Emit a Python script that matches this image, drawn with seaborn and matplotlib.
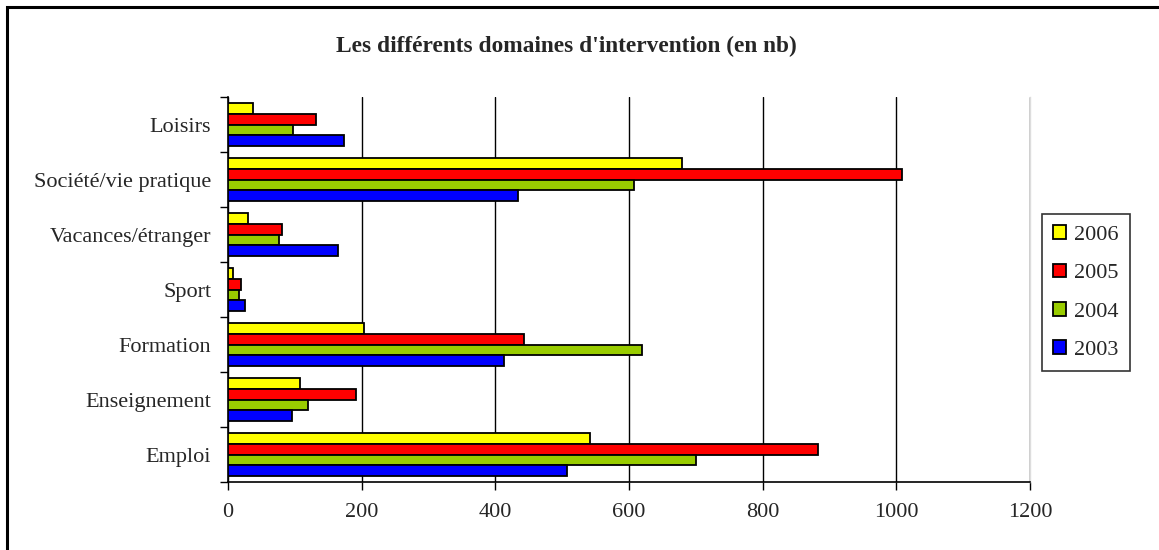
import matplotlib
matplotlib.use("Agg")
import matplotlib.pyplot as plt
import matplotlib.patches as mpatches
import seaborn as sns
import pandas as pd
import numpy as np

categories = ["Loisirs", "Société/vie pratique", "Vacances/étranger", "Sport",
              "Formation", "Enseignement", "Emploi"]
years = ["2006", "2005", "2004", "2003"]
v2006 = [38, 679, 30, 8, 203, 107, 541]
v2005 = [132, 1009, 81, 20, 443, 192, 883]
v2004 = [98, 607, 77, 17, 619, 119, 700]
v2003 = [173, 434, 165, 26, 413, 96, 507]
colors = ["#FFFF00", "#FF0000", "#99CC00", "#0000FF"]
x_ticks = [0, 200, 400, 600, 800, 1000, 1200]
title = "Les différents domaines d'intervention (en nb)"

rows = []
for yr, vals in zip(years, [v2006, v2005, v2004, v2003]):
    for c, v in zip(categories, vals):
        rows.append({"cat": c, "year": yr, "val": v})
df = pd.DataFrame(rows)

sns.set_theme(style="white")
plt.rcParams["font.family"] = ["Liberation Serif", "DejaVu Serif"]

fig = plt.figure(figsize=(11.59, 5.5), dpi=100)
ax = fig.add_axes([228 / 1159, 1 - 482 / 550, (1030 - 228) / 1159, (482 - 97) / 550])

sns.barplot(data=df, y="cat", x="val", hue="year", order=categories,
            hue_order=years, palette=colors, orient="h", width=0.78,
            edgecolor="black", linewidth=1.3, saturation=1, ax=ax, legend=False,
            zorder=3)

ax.set_xlim(0, 1200)
ax.set_ylim(len(categories) - 0.5, -0.5)
ax.set_xticks(x_ticks)
ax.set_xticklabels([str(t) for t in x_ticks], fontsize=16)
ax.set_yticks(range(len(categories)))
ax.set_yticklabels(categories, fontsize=16)
ax.set_yticks(np.arange(-0.5, len(categories), 1.0), minor=True)
ax.tick_params(axis="y", which="major", length=0, pad=12)
ax.tick_params(axis="y", which="minor", length=6, width=1, direction="out", color="black", left=True)
ax.tick_params(axis="x", which="major", length=6, width=1, direction="out", color="black",
               bottom=True, pad=9)
ax.set_xlabel("")
ax.set_ylabel("")
ax.xaxis.grid(True, color="black", linewidth=1, zorder=0)
ax.yaxis.grid(False)
ax.set_axisbelow(True)
for s in ["left", "bottom"]:
    ax.spines[s].set_color("black")
    ax.spines[s].set_linewidth(1.2)
ax.spines["top"].set_visible(False)
ax.spines["right"].set_color("#dddddd")
ax.spines["right"].set_linewidth(1)

handles = [mpatches.Patch(facecolor=c, edgecolor="black", linewidth=1.3, label=y)
           for c, y in zip(colors, years)]
leg = fig.legend(handles=handles, loc="upper left",
                 bbox_to_anchor=(1042 / 1159, 1 - 214 / 550),
                 fontsize=16, frameon=True, fancybox=False, edgecolor="black",
                 handlelength=0.58, handleheight=0.58, handletextpad=0.38,
                 labelspacing=0.84, borderpad=0.5, borderaxespad=0)
leg.get_frame().set_linewidth(1.2)

fig.text(566 / 1159, 1 - 46 / 550, title, ha="center", va="center",
         fontsize=16.8, fontweight="bold")

border = mpatches.Rectangle((7 / 1159, -0.05), 1.2, 1 - 7 / 550 + 0.05,
                            transform=fig.transFigure, fill=False,
                            edgecolor="black", linewidth=2.2, clip_on=False)
fig.patches.append(border)

fig.savefig("out.png", dpi=100)
